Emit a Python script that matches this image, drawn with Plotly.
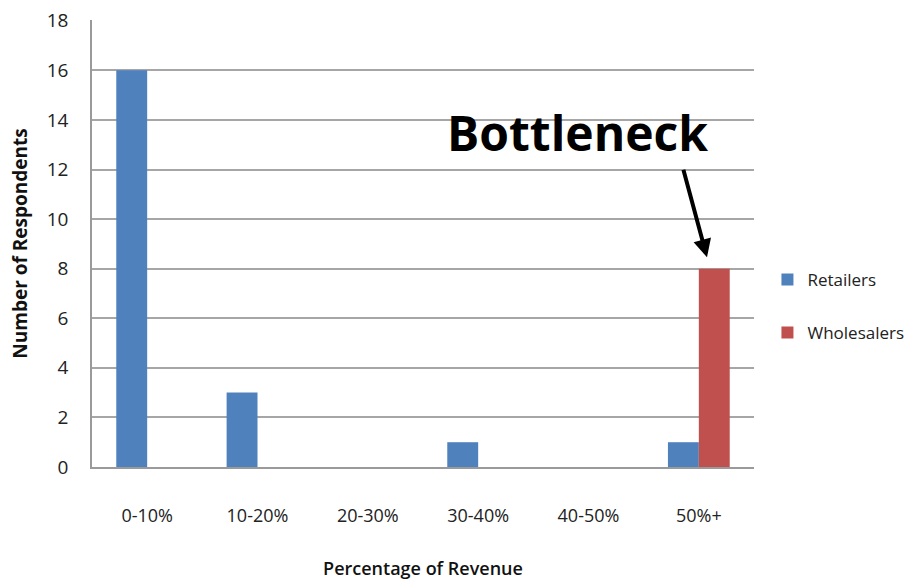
import plotly.graph_objects as go

categories = ["0-10%", "10-20%", "20-30%", "30-40%", "40-50%", "50%+"]
retailers = [16, 3, 0, 1, 0, 1]
wholesalers = [0, 0, 0, 0, 0, 8]
y_ticks = [0, 2, 4, 6, 8, 10, 12, 14, 16, 18]

FONT = "Open Sans"

fig = go.Figure()
fig.add_trace(go.Bar(x=categories, y=retailers, name="Retailers",
                     marker=dict(color="#4F81BD", line=dict(width=0)),
                     legendgroup="r"))
fig.add_trace(go.Bar(x=categories, y=wholesalers, name="Wholesalers",
                     marker=dict(color="#C0504D", line=dict(width=0)),
                     legendgroup="w"))

fig.update_layout(
    width=918, height=582,
    margin=dict(l=92, r=164, t=20, b=115, autoexpand=False),
    paper_bgcolor="white", plot_bgcolor="white",
    barmode="group", bargap=0.44, bargroupgap=0,
    font=dict(family=FONT, size=18, color="#222222"),
    legend=dict(xref="container", yref="container",
                x=0.836, y=0.55, xanchor="left", yanchor="top",
                font=dict(family=FONT, size=17, color="#222222"),
                tracegroupgap=28, bgcolor="rgba(0,0,0,0)"),
    showlegend=True,
)
fig.update_xaxes(
    type="category",
    showline=True, linecolor="#9a9a9a", linewidth=1.5,
    showgrid=False, ticks="",
    tickfont=dict(family=FONT, size=18, color="#222222"),
    ticklabelstandoff=32,
    title=dict(text="Percentage of Revenue",
               font=dict(family=FONT, size=18, color="#111111", weight=600),
               standoff=36),
)
fig.update_yaxes(
    range=[0, 18.03], tickvals=y_ticks,
    showline=True, linecolor="#9a9a9a", linewidth=1.5,
    showgrid=True, gridcolor="#a6a6a6", gridwidth=1.5,
    zeroline=False, ticks="",
    tickfont=dict(family=FONT, size=19, color="#222222"),
    ticklabelstandoff=18,
    title=dict(text="Number of Respondents",
               font=dict(family=FONT, size=19, color="#111111", weight="bold"),
               standoff=14),
)

fig.add_annotation(
    x=3.896, y=13.5, xref="x", yref="y",
    text="Bottleneck", showarrow=False,
    font=dict(family=FONT, size=48, color="black", weight="bold"),
    xanchor="center", yanchor="middle",
)
fig.add_annotation(
    x=5.074, y=8.46, xref="x", yref="y",
    ax=-24, ay=-89, axref="pixel", ayref="pixel",
    text="", showarrow=True, arrowhead=2, arrowsize=0.9,
    arrowwidth=4, arrowcolor="black", standoff=0,
)

fig.write_html("out.html")
